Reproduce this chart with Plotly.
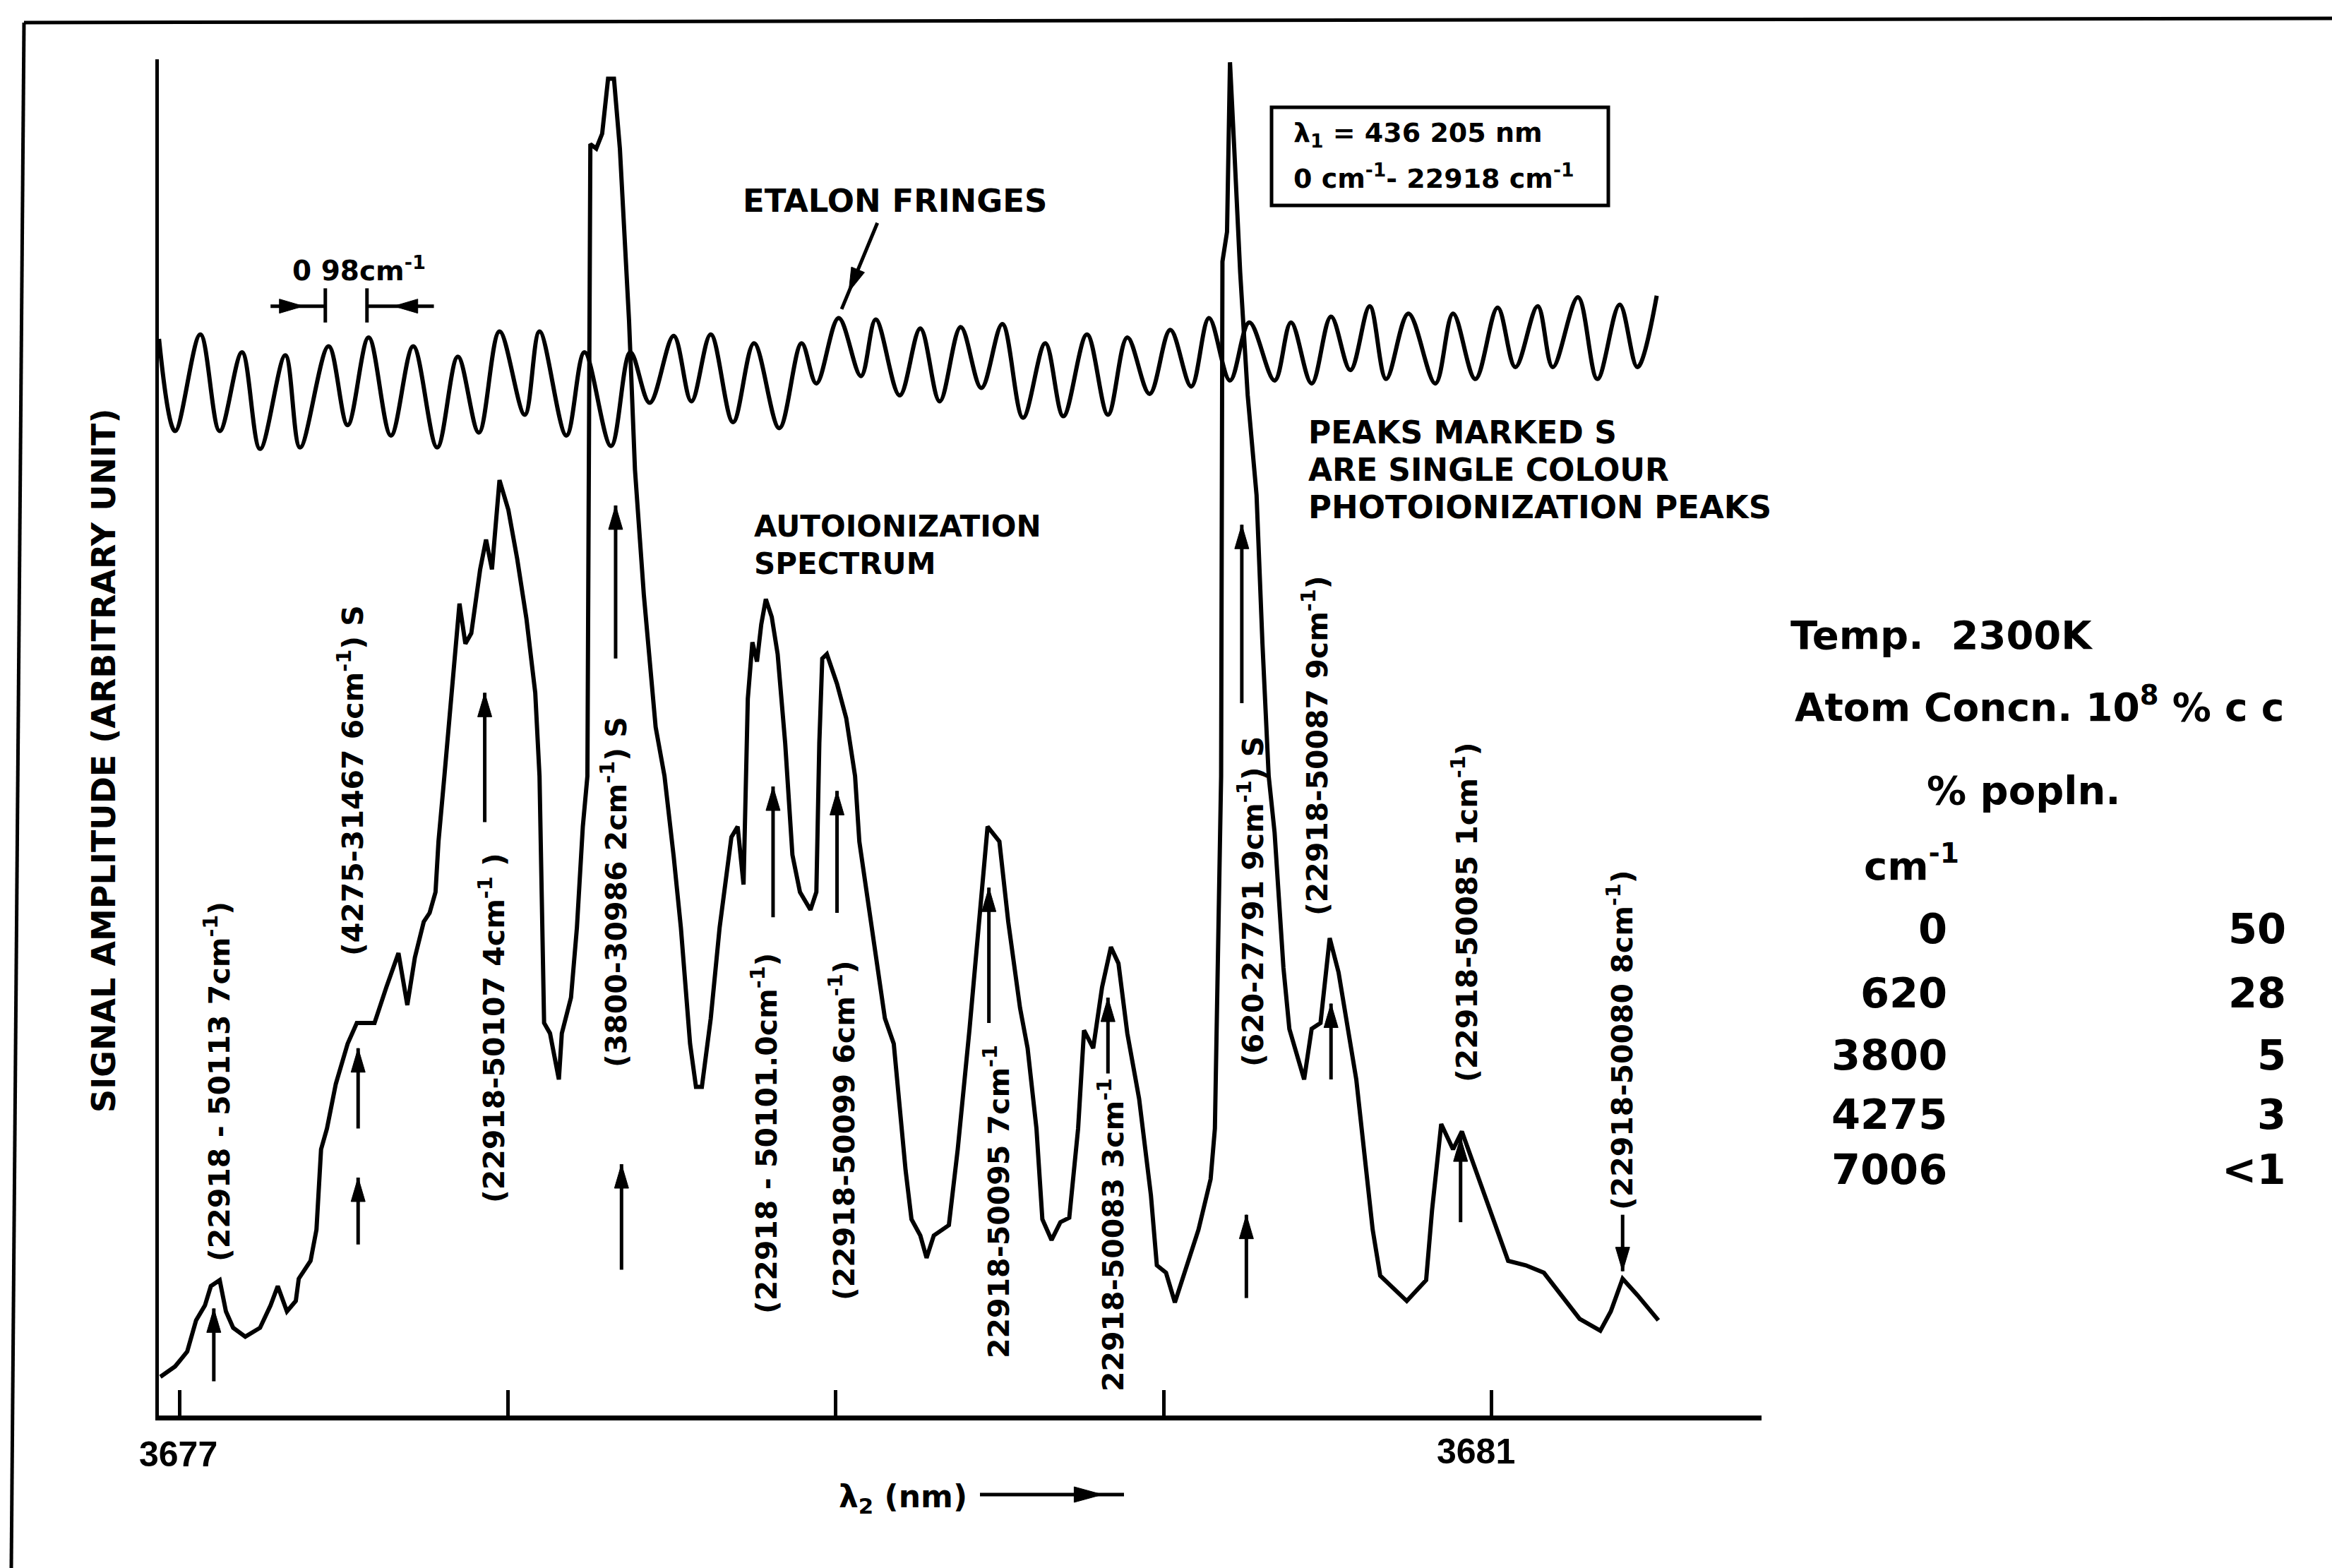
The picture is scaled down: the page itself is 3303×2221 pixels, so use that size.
import math
import plotly.graph_objects as go

# ---------------- data ----------------
# lambda_2 axis in units of the printed tick labels (3677 ... 3681), amplitude in arbitrary units
lam2_spectrum = [3676.941, 3676.986, 3677.023, 3677.050, 3677.077, 3677.095, 3677.122, 3677.141, 3677.163, 3677.200,
                 3677.245, 3677.277, 3677.299, 3677.327, 3677.354, 3677.363, 3677.399, 3677.417, 3677.431, 3677.449,
                 3677.476, 3677.512, 3677.540, 3677.594, 3677.630, 3677.667, 3677.694, 3677.717, 3677.744, 3677.762,
                 3677.780, 3677.789, 3677.807, 3677.816, 3677.853, 3677.871, 3677.889, 3677.916, 3677.934, 3677.952,
                 3677.975, 3678.002, 3678.029, 3678.057, 3678.084, 3678.097, 3678.111, 3678.129, 3678.156, 3678.165,
                 3678.193, 3678.211, 3678.229, 3678.243, 3678.252, 3678.270, 3678.288, 3678.306, 3678.324, 3678.342,
                 3678.370, 3678.388, 3678.415, 3678.451, 3678.478, 3678.506, 3678.528, 3678.556, 3678.574, 3678.592,
                 3678.619, 3678.646, 3678.682, 3678.701, 3678.719, 3678.732, 3678.746, 3678.760, 3678.773, 3678.787,
                 3678.805, 3678.823, 3678.846, 3678.868, 3678.891, 3678.923, 3678.941, 3678.950, 3678.959, 3678.973,
                 3679.004, 3679.032, 3679.059, 3679.072, 3679.109, 3679.150, 3679.177, 3679.213, 3679.231, 3679.258,
                 3679.277, 3679.299, 3679.345, 3679.372, 3679.408, 3679.435, 3679.463, 3679.499, 3679.526, 3679.562,
                 3679.585, 3679.612, 3679.630, 3679.658, 3679.685, 3679.712, 3679.739, 3679.757, 3679.785, 3679.812,
                 3679.839, 3679.862, 3679.889, 3679.925, 3679.961, 3679.979, 3680.007, 3680.034, 3680.070, 3680.106,
                 3680.143, 3680.156, 3680.175, 3680.179, 3680.193, 3680.202, 3680.215, 3680.233, 3680.256, 3680.283,
                 3680.301, 3680.320, 3680.338, 3680.365, 3680.383, 3680.428, 3680.451, 3680.478, 3680.506, 3680.533,
                 3680.587, 3680.637, 3680.660, 3680.741, 3680.800, 3680.818, 3680.846, 3680.882, 3680.909, 3681.000,
                 3681.050, 3681.104, 3681.159, 3681.268, 3681.331, 3681.363, 3681.399, 3681.444, 3681.508]
amp_spectrum = [26, 33, 43, 64, 74, 87, 91, 70, 59, 53,
                59, 74, 87, 70, 77, 92, 104, 125, 179, 193,
                223, 250, 264, 264, 288, 311, 276, 308, 332, 338,
                352, 386, 430, 453, 546, 519, 526, 569, 589, 569,
                629, 609, 576, 536, 486, 430, 264, 257, 226, 257,
                281, 328, 396, 430, 855, 852, 862, 899, 899, 852,
                736, 636, 552, 463, 430, 376, 328, 250, 221, 221,
                267, 328, 389, 396, 357, 482, 520, 507, 532, 549,
                537, 512, 452, 377, 352, 340, 352, 452, 509, 512,
                492, 469, 430, 386, 328, 267, 250, 165, 132, 121,
                106, 121, 128, 179, 260, 328, 396, 386, 332, 274,
                247, 193, 132, 118, 130, 133, 193, 259, 247, 288,
                315, 304, 257, 213, 148, 101, 96, 76, 101, 125,
                159, 193, 430, 776, 796, 910, 852, 769, 686, 619,
                519, 430, 392, 301, 260, 226, 260, 264, 321, 298,
                226, 125, 94, 77, 91, 138, 196, 179, 191, 135,
                104, 101, 96, 65, 57, 70, 92, 81, 64]

lam2_etalon = [3676.937, 3676.986, 3677.063, 3677.122, 3677.190, 3677.245, 3677.322, 3677.367, 3677.454, 3677.512,
               3677.576, 3677.644, 3677.712, 3677.785, 3677.848, 3677.912, 3677.975, 3678.052, 3678.097, 3678.179,
               3678.234, 3678.315, 3678.374, 3678.433, 3678.506, 3678.560, 3678.619, 3678.687, 3678.751, 3678.828,
               3678.896, 3678.941, 3679.009, 3679.077, 3679.122, 3679.195, 3679.258, 3679.317, 3679.381, 3679.444,
               3679.508, 3679.571, 3679.639, 3679.694, 3679.766, 3679.830, 3679.889, 3679.957, 3680.020, 3680.084,
               3680.138, 3680.202, 3680.261, 3680.338, 3680.388, 3680.451, 3680.510, 3680.569, 3680.628, 3680.678,
               3680.746, 3680.828, 3680.882, 3680.950, 3681.018, 3681.072, 3681.140, 3681.186, 3681.263, 3681.322,
               3681.390, 3681.444, 3681.503]
amp_etalon = [724, 662, 727, 662, 715, 650, 713, 651, 719, 666,
              725, 659, 719, 651, 712, 661, 729, 673, 729, 659,
              715, 652, 715, 681, 726, 682, 727, 668, 721, 664,
              721, 694, 738, 699, 737, 686, 731, 682, 732, 691,
              734, 671, 721, 672, 727, 673, 725, 687, 730, 692,
              738, 696, 735, 696, 735, 694, 739, 703, 746, 697,
              741, 694, 741, 697, 745, 705, 746, 705, 752, 697,
              747, 705, 753]

x_tick_values = [3677, 3678, 3679, 3680, 3681]
x_tick_text = ["3677", "", "", "", "3681"]

peak_label_text = [
    "(22918 - 50113 7cm<sup>-1</sup>)",
    "(4275-31467 6cm<sup>-1</sup>) S",
    "(22918-50107 4cm<sup>-1</sup> )",
    "(3800-30986 2cm<sup>-1</sup>) S",
    "(22918 - 50101.0cm<sup>-1</sup>)",
    "(22918-50099 6cm<sup>-1</sup>)",
    "22918-50095 7cm<sup>-1</sup>",
    "22918-50083 3cm<sup>-1</sup>",
    "(620-27791 9cm<sup>-1</sup>) S",
    "(22918-50087 9cm<sup>-1</sup>)",
    "(22918-50085 1cm<sup>-1</sup>)",
    "(22918-50080 8cm<sup>-1</sup>)",
]

level_cm = ["0", "620", "3800", "4275", "7006"]
popln_pct = ["50", "28", "5", "3", "<1"]

# ---------------- layout geometry ----------------
W, H = 3303, 2221
L, R, T, B = 225, 808, 84, 216
XR = [3676.9365, 3681.8225]
YR = [0, 912]
FONT = "DejaVu Sans"


def px(X):
    return (X - L) / (W - L - R)


def py(Y):
    return (H - B - Y) / (H - T - B)


def dpx(lam):
    return L + (lam - XR[0]) / (XR[1] - XR[0]) * (W - L - R)


def dpy(a):
    return H - B - (a - YR[0]) / (YR[1] - YR[0]) * (H - T - B)


fig = go.Figure()
fig.add_trace(go.Scatter(x=lam2_etalon, y=amp_etalon, mode="lines",
                         line=dict(color="black", width=6, shape="spline", smoothing=1.0),
                         hoverinfo="skip"))
fig.add_trace(go.Scatter(x=lam2_spectrum, y=amp_spectrum, mode="lines",
                         line=dict(color="black", width=6), hoverinfo="skip"))


def text(X, Y, s, size, angle=0, xa="center", ya="middle", family=FONT, weight="bold"):
    fig.add_annotation(x=px(X), y=py(Y), xref="paper", yref="paper", text=s, showarrow=False,
                       textangle=angle, xanchor=xa, yanchor=ya,
                       font=dict(family=family, size=size, color="black", weight=weight))


def arrow_px(Xt, Yt, Xh, Yh, frac=1.0, hl=34, hw=10, w=5):
    fig.add_shape(type="line", xref="paper", yref="paper",
                  x0=px(Xt), y0=py(Yt), x1=px(Xh), y1=py(Yh),
                  line=dict(color="black", width=w))
    ln = math.hypot(Xh - Xt, Yh - Yt)
    ux, uy = (Xh - Xt) / ln, (Yh - Yt) / ln
    tx, ty = Xt + frac * (Xh - Xt), Yt + frac * (Yh - Yt)
    bx, by = tx - hl * ux, ty - hl * uy
    v1 = (bx - hw * uy, by + hw * ux)
    v2 = (bx + hw * uy, by - hw * ux)
    path = "M {:.5f},{:.5f} L {:.5f},{:.5f} L {:.5f},{:.5f} Z".format(
        px(tx), py(ty), px(v1[0]), py(v1[1]), px(v2[0]), py(v2[1]))
    fig.add_shape(type="path", xref="paper", yref="paper", path=path,
                  fillcolor="black", line=dict(color="black", width=1))


def arrow_data(lt, at, lh, ah, frac=1.0):
    arrow_px(dpx(lt), dpy(at), dpx(lh), dpy(ah), frac=frac)


# peak markers (position, tail, head)
peak_arrows = [(3677.104, 23, 72), (3677.544, 115, 160), (3677.544, 193, 247), (3677.930, 399, 486),
               (3678.329, 509, 612), (3678.347, 98, 169), (3678.809, 335, 423), (3679.004, 338, 420),
               (3679.467, 264, 355), (3679.830, 230, 281), (3680.238, 479, 599), (3680.252, 79, 135),
               (3680.510, 226, 277), (3680.905, 130, 187), (3681.399, 135, 97)]
for xa_, yt, yh in peak_arrows:
    arrow_data(xa_, yt, xa_, yh)

# etalon fringes pointer
arrow_data(3679.127, 802, 3679.018, 744, frac=0.8)

# 0.98 cm-1 spacing marker
arrow_data(3677.277, 746, 3677.444, 746, frac=0.6)
arrow_data(3677.775, 746, 3677.571, 746, frac=0.6)
for xb in (3677.444, 3677.571):
    fig.add_shape(type="line", x0=xb, x1=xb, y0=735, y1=758, xref="x", yref="y",
                  line=dict(color="black", width=5))

# vertical peak labels
peak_label_pos = [(308, 1532), (497, 1106), (697, 1456), (870, 1264), (1083, 1606), (1193, 1601),
                  (1412, 1702), (1574, 1749), (1772, 1277), (1863, 1056), (2075, 1292), (2295, 1473)]
for s, (X, Y) in zip(peak_label_text, peak_label_pos):
    text(X, Y, s, 41, angle=-90)

text(1267, 284, "ETALON FRINGES", 45)
text(508, 381, "0 98cm<sup>-1</sup>", 39)

# lambda_1 box
fig.add_shape(type="rect", xref="paper", yref="paper", x0=px(1801), x1=px(2278), y0=py(291), y1=py(152),
              line=dict(color="black", width=5))
text(1830, 190, "λ<sub>1</sub> = 436 205 nm", 38, xa="left")
text(1830, 250, "0 cm<sup>-1</sup>- 22918 cm<sup>-1</sup>", 38, xa="left")

text(1851, 612, "PEAKS MARKED S", 44, xa="left")
text(1851, 666, "ARE SINGLE COLOUR", 44, xa="left")
text(1851, 718, "PHOTOIONIZATION PEAKS", 45, xa="left")

text(1066, 746, "AUTOIONIZATION", 42, xa="left")
text(1066, 798, "SPECTRUM", 42, xa="left")

text(147, 1077, "SIGNAL AMPLITUDE (ARBITRARY UNIT)", 46, angle=-90)

# x tick labels and title
text(252, 2060, x_tick_text[0], 50, family="Liberation Sans")
text(2090, 2056, x_tick_text[4], 50, family="Liberation Sans")
text(1372, 2122, "λ<sub>2</sub> (nm)", 44, xa="right")
arrow_px(1388, 2117, 1592, 2117, frac=0.85, hl=40, hw=11)

# right-hand information block
text(2534, 899, "Temp.  2300K", 56, xa="left")
text(2540, 998, "Atom Concn. 10<sup>8</sup> % c c", 55, xa="left")
text(2727, 1120, "% popln.", 56, xa="left")
text(2638, 1222, "cm<sup>-1</sup>", 56, xa="left")
row_y = [1315, 1406, 1494, 1578, 1656]
for lv, pc, Y in zip(level_cm, popln_pct, row_y):
    text(2760, Y, lv, 59, xa="right")
    text(3240, Y, pc, 59, xa="right")

# outer frame (top and left edges)
fig.add_shape(type="line", xref="paper", yref="paper", x0=px(34), y0=py(32), x1=px(3303), y1=py(26),
              line=dict(color="black", width=5))
fig.add_shape(type="line", xref="paper", yref="paper", x0=px(34), y0=py(32), x1=px(16), y1=py(2221),
              line=dict(color="black", width=5))

fig.update_layout(
    width=W, height=H,
    margin=dict(l=L, r=R, t=T, b=B, pad=0),
    paper_bgcolor="white", plot_bgcolor="white",
    showlegend=False,
    font=dict(family=FONT, color="black"),
    xaxis=dict(range=XR, showgrid=False, zeroline=False,
               showline=True, linecolor="black", linewidth=7,
               ticks="inside", tickvals=x_tick_values, ticklen=36, tickwidth=5, tickcolor="black",
               showticklabels=False),
    yaxis=dict(range=YR, showgrid=False, zeroline=False,
               showline=True, linecolor="black", linewidth=5, ticks="", showticklabels=False),
)

fig.write_html("out.html", config={"displayModeBar": False},
               post_script="document.body.style.margin='0';document.body.style.overflow='hidden';")
